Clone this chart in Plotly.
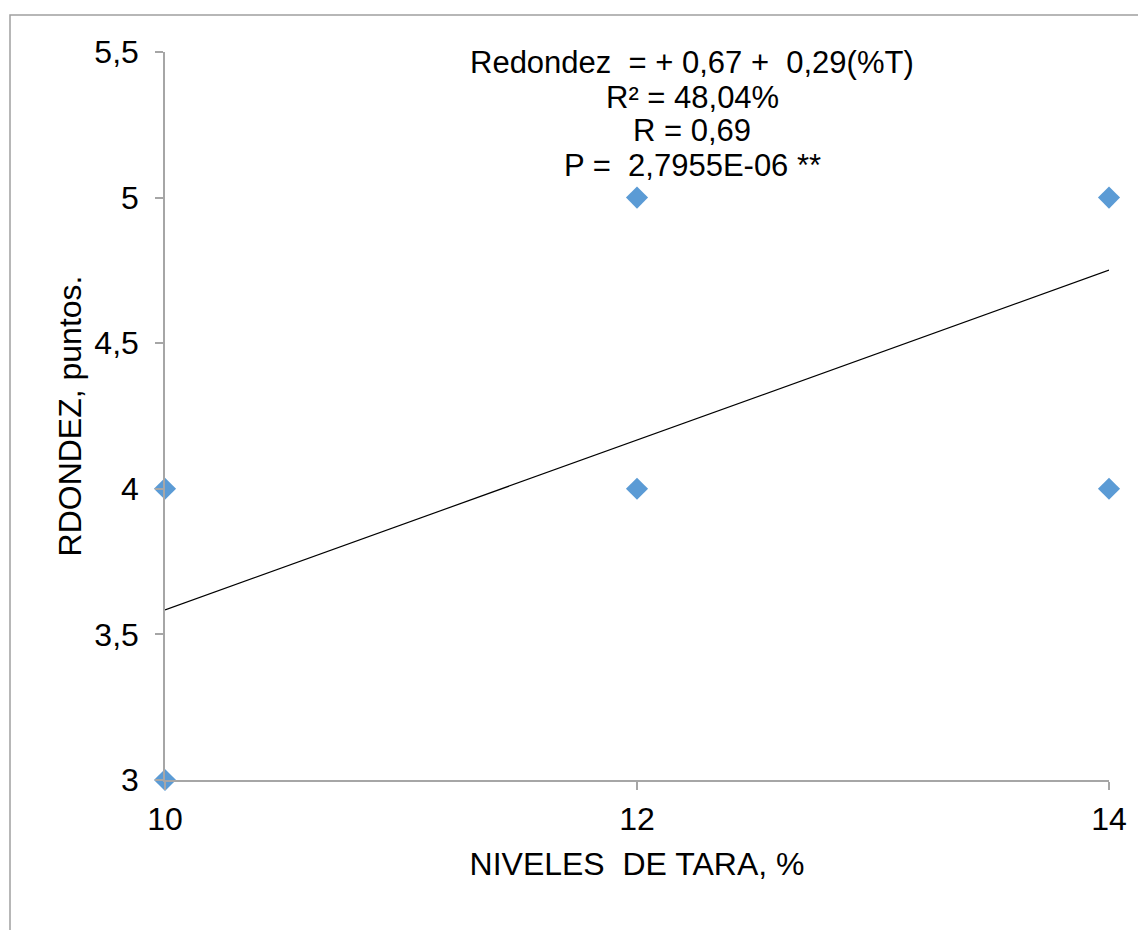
import plotly.graph_objects as go

# Data
niveles_tara = [10, 10, 12, 12, 14, 14]
redondez = [4, 3, 5, 4, 5, 4]
trend_x = [10, 14]
trend_y = [3.584, 4.751]
x_ticks = [10, 12, 14]
x_tick_labels = ["10", "12", "14"]
y_ticks = [3, 3.5, 4, 4.5, 5, 5.5]
y_tick_labels = ["3", "3,5", "4", "4,5", "5", "5,5"]
eq_lines = ["Redondez  = + 0,67 +  0,29(%T)", "R² = 48,04%", "R = 0,69", "P =  2,7955E-06 **"]

W, H = 1138, 930
L, R, T, B = 165, 29, 52, 150
pw, ph = W - L - R, H - T - B

def px_x(p):
    return (p - L) / pw

def px_y(p):
    return (H - B - p) / ph

fig = go.Figure()
fig.add_trace(go.Scatter(x=trend_x, y=trend_y, mode="lines",
                         line=dict(color="black", width=1.2), hoverinfo="skip"))
fig.add_trace(go.Scatter(x=niveles_tara, y=redondez, mode="markers",
                         marker=dict(symbol="diamond", size=17, color="#5B9BD5",
                                     line=dict(width=0)), cliponaxis=False))

font = "Liberation Sans, Arial, sans-serif"
FS = 32
axis_common = dict(showgrid=False, zeroline=False, showline=True, linecolor="#A6A6A6",
                   linewidth=1.5, ticks="outside", tickcolor="#A6A6A6", ticklen=8,
                   tickwidth=1.5, tickfont=dict(family=font, size=FS, color="black"))

fig.update_layout(
    width=W, height=H, margin=dict(l=L, r=R, t=T, b=B),
    paper_bgcolor="white", plot_bgcolor="white", showlegend=False,
    xaxis=dict(range=[10, 14], tickvals=x_ticks, ticktext=x_tick_labels, ticklabelstandoff=2,
               title=dict(text="NIVELES  DE TARA, %", font=dict(family=font, size=FS, color="black"),
                          standoff=16), **axis_common),
    yaxis=dict(range=[3, 5.5], tickvals=y_ticks, ticktext=y_tick_labels, ticklabelstandoff=10,
               title=dict(text="RDONDEZ, puntos.", font=dict(family=font, size=FS, color="black"),
                          standoff=3), **axis_common),
)

line_y = [63, 97, 131, 165]
for txt, yy in zip(eq_lines, line_y):
    fig.add_annotation(x=px_x(692), y=px_y(yy), xref="paper", yref="paper", text=txt,
                       showarrow=False, xanchor="center", yanchor="middle",
                       font=dict(family=font, size=31, color="black"))

fig.add_shape(type="rect", xref="paper", yref="paper",
              x0=px_x(10), y0=px_y(960), x1=px_x(1160), y1=px_y(15),
              line=dict(color="#A0A0A0", width=1.5), fillcolor="rgba(0,0,0,0)")

fig.write_html("out.html")
